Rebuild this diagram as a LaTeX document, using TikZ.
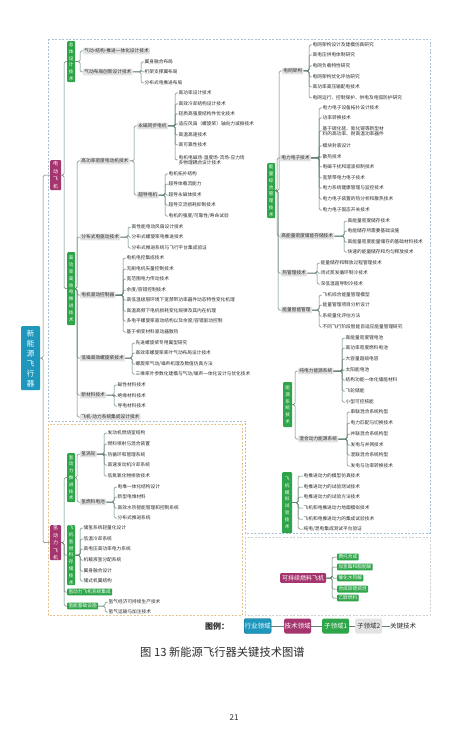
\documentclass[tikz,border=0pt]{standalone}
\usepackage{fontspec}
\setmainfont{Noto Sans CJK SC}
\usetikzlibrary{calc}
\definecolor{tealc}{HTML}{1F97BC}
\definecolor{magc}{HTML}{A5356E}
\definecolor{grnc}{HTML}{2EA548}
\definecolor{grayf}{HTML}{E3E3E3}
\definecolor{lnc}{HTML}{62806F}
\definecolor{txc}{HTML}{2B2B2B}
\definecolor{blued}{HTML}{A8C2D6}
\definecolor{orad}{HTML}{E6C58E}
\definecolor{grayd}{HTML}{CFCFCF}
\newcommand\kids[3][3]{\foreach \kid in {#3}{\draw[ln] (#2.east) -| ([xshift=-#1pt]\kid.west) -- (\kid.west);}}
\tikzset{
 ln/.style={draw=lnc,line width=0.5pt,rounded corners=1.5pt},
 tx/.style={anchor=west,inner sep=0.5pt,text=txc,font=\fontsize{4.7}{5.3}\selectfont},
 gb/.style={tx,fill=grayf,inner sep=1.2pt,rounded corners=0.8pt},
 vb/.style={anchor=north west,inner sep=0pt,text=white,align=center,rounded corners=1pt,minimum width=8pt,font=\fontsize{4.6}{6.8}\selectfont},
 gv/.style={vb,fill=grnc},
 mv/.style={vb,fill=magc,minimum width=11pt,font=\fontsize{5}{7.4}\selectfont},
 gh/.style={anchor=west,fill=grnc,text=white,inner sep=1.3pt,rounded corners=0.8pt,font=\fontsize{4.7}{5.3}\selectfont},
 dbox/.style={line width=0.7pt,dash pattern=on 2pt off 1.5pt},
 lg/.style={anchor=west,inner sep=0pt,minimum height=15pt,text=white,rounded corners=1.5pt,font=\fontsize{6.5}{7}\selectfont,text width=27pt,align=center},
}
\begin{document}
\begin{tikzpicture}[x=1pt,y=-1pt]
\useasboundingbox (0,0) rectangle (468,738);
\fill[white] (0,0) rectangle (468,738);
% dashed frames
\draw[blued,dbox] (48,39) -- (430,39) -- (430,533) -- (245,533) -- (245,421) -- (48,421) -- cycle;
\draw[orad,dbox] (48,424) rectangle (242,615);
\draw[grayd,dbox] (245,537) rectangle (430,615);

% root
\node[vb,fill=tealc,minimum width=19pt,minimum height=64pt,font=\fontsize{7.5}{10}\selectfont] (root) at (21,326) {新\\能\\源\\飞\\行\\器};
\node[mv,minimum height=30pt] (ev) at (50,160) {电\\动\\飞\\机};
\node[mv,minimum height=35pt] (h2) at (50,525) {氢\\动\\力\\飞\\机};
\kids[7]{root}{ev,h2}

% ===== 总体设计技术
\node[gv,minimum height=41pt] (zt) at (67,41) {总\\体\\设\\计\\技\\术};
\node[gb] (zt1) at (83,51) {气动-结构-推进一体化设计技术};
\node[gb] (zt2) at (83,72) {气动布局创新设计技术};
\node[tx] (zt21) at (144,62) {翼身融合布局};
\node[tx] (zt22) at (144,72) {桁架支撑翼布局};
\node[tx] (zt23) at (144,83) {分布式电推进布局};
\kids{zt}{zt1,zt2}
\kids{zt2}{zt21,zt22,zt23}

% ===== 高功率高效电推进技术
\node[gv,minimum height=73pt] (gp) at (67,252) {高\\功\\率\\高\\效\\电\\推\\进\\技\\术};
\kids{ev}{zt,gp}
\node[gb] (m1) at (80,161) {高功率密度电动机技术};
\node[gb] (m2) at (80,237) {分布式电驱动技术};
\node[gb] (m3) at (80,295) {电机驱动控制器};
\node[gb] (m4) at (80,358) {低噪高效螺旋桨技术};
\node[gb] (m5) at (80,395) {新材料技术};
\node[gb] (m6) at (80,417) {飞机-动力系统集成设计技术};
\kids{gp}{m1,m2,m3,m4,m5,m6}

\node[gb] (m11) at (137,126) {永磁同步电机};
\node[gb] (m12) at (137,195) {超导电机};
\kids{m1}{m11,m12}
\node[tx] (a1) at (178,93) {高功率设计技术};
\node[tx] (a2) at (178,104) {高效冷却结构设计技术};
\node[tx] (a3) at (178,114) {轻质高强度结构件优化技术};
\node[tx] (a4) at (178,124) {适应风扇（螺旋桨）轴向力减振技术};
\node[tx] (a5) at (178,135) {高温高速技术};
\node[tx] (a6) at (178,145) {高可靠性技术};
\node[tx,align=left] (a7) at (178,160) {电机电磁场-温度场-流场-应力场\\多物理耦合设计技术};
\kids{m11}{a1,a2,a3,a4,a5,a6,a7}
\node[tx] (b1) at (168,174) {电机拓扑结构};
\node[tx] (b2) at (168,184) {超导体载流能力};
\node[tx] (b3) at (168,195) {超导永磁体技术};
\node[tx] (b4) at (168,205) {超导交流损耗抑制技术};
\node[tx] (b5) at (168,216) {电机的强度/可靠性/寿命试验};
\kids{m12}{b1,b2,b3,b4,b5}

\node[tx] (c1) at (131,227) {高性能电动风扇设计技术};
\node[tx] (c2) at (131,237) {分布式螺旋桨电推进技术};
\node[tx] (c3) at (131,248) {分布式推进系统与飞行平台集成验证};
\kids{m2}{c1,c2,c3}

\node[tx] (d1) at (126,258) {电机电控集成技术};
\node[tx] (d2) at (126,269) {无刷电机矢量控制技术};
\node[tx] (d3) at (126,279) {宽范围电力传动技术};
\node[tx] (d4) at (126,290) {余度/容错控制技术};
\node[tx] (d5) at (126,300) {高低温极限环境下宽禁带功率器件动态特性变化机理};
\node[tx] (d6) at (126,311) {高温高频下电机损耗变化规律及其内在机理};
\node[tx] (d7) at (126,321) {多电平螺旋桨驱动结构以及余度/容错驱动控制};
\node[tx] (d8) at (126,332) {基于相变材料驱动器散热};
\kids{m3}{d1,d2,d3,d4,d5,d6,d7,d8}

\node[tx] (e1) at (135,343) {先进螺旋桨专用翼型研究};
\node[tx] (e2) at (135,353) {高效率螺旋桨桨叶气动布局设计技术};
\node[tx] (e3) at (135,364) {螺旋桨气动/噪声机理及数值仿真方法};
\node[tx] (e4) at (135,374) {三维桨叶参数化建模与气动/噪声一体化设计与优化技术};
\kids{m4}{e1,e2,e3,e4}

\node[tx] (f1) at (117,385) {磁性材料技术};
\node[tx] (f2) at (117,396) {绝缘材料技术};
\node[tx] (f3) at (117,406) {导电材料技术};
\kids{m5}{f1,f2,f3}

% ===== 能量综合管理技术
\node[gv,minimum height=55pt] (nl) at (267,163) {能\\量\\综\\合\\管\\理\\技\\术};
\node[gb] (n1) at (282,71) {电网架构};
\node[gb] (n2) at (280,158) {电力电子技术};
\node[gb] (n3) at (280,236) {高能量密度储能存储技术};
\node[gb] (n4) at (281,273) {热管理技术};
\node[gb] (n5) at (281,310) {能量智能管理};
\kids{nl}{n1,n2,n3,n4,n5}

\node[tx] (p1) at (312,45) {电网架构设计及建模仿真研究};
\node[tx] (p2) at (312,55) {高电压供电体制研究};
\node[tx] (p3) at (312,66) {电网负载特性研究};
\node[tx] (p4) at (312,77) {电网架构优化评估研究};
\node[tx] (p5) at (312,87) {高功率高压输配电技术};
\node[tx] (p6) at (312,98) {电网运行、控制保护、供电及电弧防护研究};
\kids{n1}{p1,p2,p3,p4,p5,p6}

\node[tx] (q1) at (322,108) {电力电子设备拓扑设计技术};
\node[tx] (q2) at (322,118) {功率转换技术};
\node[tx,align=left] (q3) at (322,131) {基于碳化硅、氮化镓等新型材\\料的高功率、耐高温功率器件};
\node[tx] (q4) at (322,146) {模块封装设计};
\node[tx] (q5) at (322,157) {散热技术};
\node[tx] (q6) at (322,167) {电磁干扰和谐波抑制技术};
\node[tx] (q7) at (322,178) {宽禁带电力电子技术};
\node[tx] (q8) at (322,188) {电力系统健康管理与监控技术};
\node[tx] (q9) at (322,199) {电力电子装置的热分析和散热技术};
\node[tx] (q10) at (322,210) {电力电子固态开关技术};
\kids{n2}{q1,q2,q3,q4,q5,q6,q7,q8,q9,q10}

\node[tx] (r1) at (347,221) {高能量密度储存技术};
\node[tx] (r2) at (347,231) {电能储存所需要基础设施};
\node[tx] (r3) at (347,242) {高能量密度能量储存的基础材料技术};
\node[tx] (r4) at (347,252) {快速的能量储存和均匀释放技术};
\kids{n3}{r1,r2,r3,r4}

\node[tx] (s1) at (320,263) {能量储存和释放过程管理技术};
\node[tx] (s2) at (320,273) {闭式蒸发循环制冷技术};
\node[tx] (s3) at (320,284) {深低温超导制冷技术};
\kids{n4}{s1,s2,s3}

\node[tx] (u1) at (322,295) {飞机综合能量管理模型};
\node[tx] (u2) at (322,305) {能量管理项目分析设计};
\node[tx] (u3) at (322,316) {系统量化评估方法};
\node[tx] (u4) at (322,327) {不同飞行阶段智能自适应能量管理研究};
\kids{n5}{u1,u2,u3,u4}

% ===== 能源系统技术
\node[gv,minimum height=45pt,minimum width=9pt] (ny) at (283,382) {能\\源\\系\\统\\技\\术};
\node[gb] (y1) at (298,371) {纯电力能源系统};
\node[gb] (y2) at (298,439) {混合动力能源系统};
\kids{ny}{y1,y2}
\node[tx] (v1) at (345,338) {高能量密度锂电池};
\node[tx] (v2) at (345,348) {高功率密度燃料电池};
\node[tx] (v3) at (345,359) {大容量超级电容};
\node[tx] (v4) at (345,370) {太阳能电池};
\node[tx] (v5) at (345,380) {结构功能一体化储能材料};
\node[tx] (v6) at (345,391) {飞轮储能};
\node[tx] (v7) at (345,402) {小型可控核能};
\kids{y1}{v1,v2,v3,v4,v5,v6,v7}
\node[tx] (w1) at (350,412) {串联混合系统构型};
\node[tx] (w2) at (350,423) {电力匹配与切换技术};
\node[tx] (w3) at (350,434) {并联混合系统构型};
\node[tx] (w4) at (350,445) {发电与并网技术};
\node[tx] (w5) at (350,455) {混联混合系统构型};
\node[tx] (w6) at (350,466) {发电与功率转换技术};
\kids{y2}{w1,w2,w3,w4,w5,w6}

% ===== 试验技术
\node[gv,minimum height=61pt,minimum width=10pt] (ns) at (282,472) {飞\\机\\模\\拟\\试\\验\\技\\术};
\node[tx] (x1) at (303,476) {电推进动力的模型仿真技术};
\node[tx] (x2) at (303,487) {电推进动力的试验测试技术};
\node[tx] (x3) at (303,497) {电推进动力的试验方法技术};
\node[tx] (x4) at (303,508) {飞机和电推进动力地面模拟技术};
\node[tx] (x5) at (303,519) {飞机和电推进动力的集成试验技术};
\node[tx] (x6) at (303,529) {纯电/混电集成测试平台验证};
\kids[5]{ns}{x1,x2,x3,x4,x5,x6}

% ===== 氢动力飞机
\node[gv,minimum height=49pt] (hp) at (67,453) {氢\\动\\力\\推\\进\\技\\术};
\node[gv,minimum height=60pt] (hs) at (67,525) {飞\\机\\氢\\燃\\料\\存\\储\\技\\术};
\node[gh] (hi) at (67,592) {氢动力飞机系统集成};
\node[gh] (hf) at (67,606) {氢能基础设施};
\kids{h2}{hp,hs,hi,hf}
\node[gb] (hp1) at (80,454) {氢涡轮};
\node[gb] (hp2) at (80,502) {氢燃料电池};
\kids{hp}{hp1,hp2}
\node[tx] (i1) at (107,433) {发动机燃烧室结构};
\node[tx] (i2) at (107,444) {燃料喷射与混合装置};
\node[tx] (i3) at (107,455) {热循环和管理系统};
\node[tx] (i4) at (107,465) {高速发动机冷却系统};
\node[tx] (i5) at (107,476) {低氮氧化物排放技术};
\kids{hp1}{i1,i2,i3,i4,i5}
\node[tx] (j1) at (117,487) {电堆一体化结构设计};
\node[tx] (j2) at (117,497) {新型电堆材料};
\node[tx] (j3) at (117,508) {高效水热智能管理和控制系统};
\node[tx] (j4) at (117,518) {分布式推进系统};
\kids{hp2}{j1,j2,j3,j4}
\node[tx] (k1) at (83,528) {储氢系统轻量化设计};
\node[tx] (k2) at (83,539) {低温冷却系统};
\node[tx] (k3) at (83,549) {高电压高功率电力系统};
\node[tx] (k4) at (83,560) {机载液氢分配系统};
\node[tx] (k5) at (83,571) {翼身融合设计};
\node[tx] (k6) at (83,581) {储式机翼结构};
\kids{hs}{k1,k2,k3,k4,k5,k6}
\node[tx] (l1) at (108,602) {氢气经济可持续生产技术};
\node[tx] (l2) at (108,612) {氢气运输与加注技术};
\kids{hf}{l1,l2}

% ===== 可持续燃料飞机
\node[anchor=west,fill=magc,text=white,inner sep=2pt,rounded corners=1pt,font=\fontsize{6}{7}\selectfont] (sf) at (280,578) {可持续燃料飞机};
\node[gh] (o1) at (337,557) {费托合成};
\node[gh] (o2) at (337,567) {加氢酯和脂肪酸};
\node[gh] (o3) at (337,578) {催化水热解};
\node[gh] (o4) at (337,589) {合成异链烷烃};
\node[gh] (o5) at (337,598) {乙醇燃料};
\kids[5]{sf}{o1,o2,o3,o4,o5}

% ===== legend
\node[anchor=west,inner sep=0pt,font=\bfseries\fontsize{8}{9}\selectfont,text=txc] (lgt) at (205,626) {图例：};
\node[lg,fill=tealc,draw=tealc!70!black] (lg1) at (244,626) {行业领域};
\node[lg,fill=magc] (lg2) at (284,626) {技术领域};
\node[lg,fill=grnc] (lg3) at (322,626) {子领域1};
\node[lg,fill=grayf,text=txc] (lg4) at (355,626) {子领域2};
\node[anchor=west,inner sep=0pt,font=\fontsize{6.5}{7}\selectfont,text=txc] (lg5) at (390,626) {关键技术};
\draw[ln] (lg1) -- (lg2);
\draw[ln] (lg2) -- (lg3);
\draw[ln] (lg3) -- (lg4);
\draw[ln] (lg4) -- (lg5);

% caption
\node[anchor=west,inner sep=0pt,font=\fontsize{11.3}{12}\selectfont,text=txc] (cap) at (140,652) {图 13 新能源飞行器关键技术图谱};
\node[inner sep=0pt,font=\fontsize{8}{9}\selectfont,text=txc] (pg) at (234,718) {21};
\end{tikzpicture}
\end{document}
